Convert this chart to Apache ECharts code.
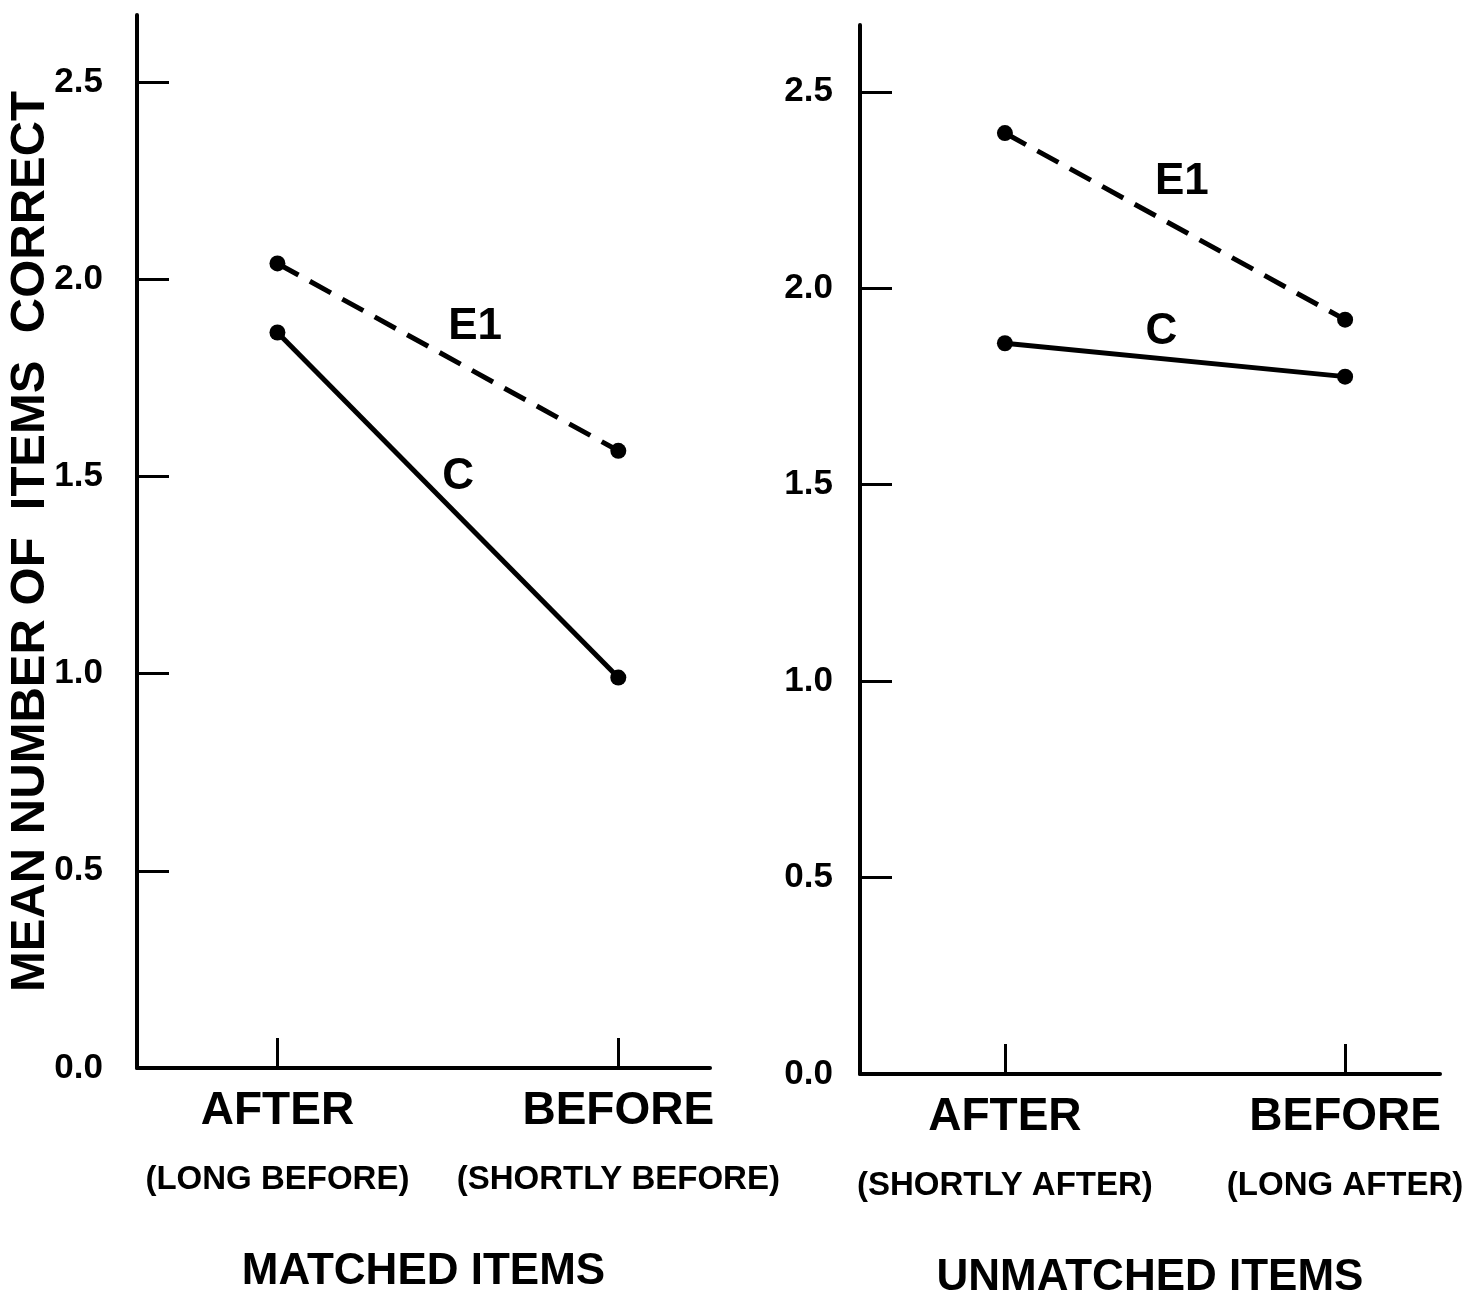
<!DOCTYPE html>
<html>
<head>
<meta charset="utf-8">
<script src="https://cdn.jsdelivr.net/npm/echarts@6/dist/echarts.min.js"></script>
<style>
    html, body { margin: 0; padding: 0; background: #fff; }
    #chart { width: 1477px; height: 1305px; }
</style>
</head>
<body>
<div id="chart"></div>
<script>
// conditions along x (0 = AFTER, 1 = BEFORE)
const conditions = ['AFTER', 'BEFORE'];
const matchedSub = ['(LONG BEFORE)', '(SHORTLY BEFORE)'];
const unmatchedSub = ['(SHORTLY AFTER)', '(LONG AFTER)'];
const yTicks = [0, 0.5, 1.0, 1.5, 2.0, 2.5];

// mean number of items correct
const matchedE1 = [2.04, 1.565];
const matchedC = [1.865, 0.99];
const unmatchedE1 = [2.395, 1.92];
const unmatchedC = [1.86, 1.775];

const font = 'Liberation Sans, Arial, sans-serif';

function pts(vals) {
    return vals.map((v, i) => [i, v]);
}

function xAxisFor(gridIndex, subs, name, min, max) {
    return {
        type: 'value',
        gridIndex: gridIndex,
        min: min,
        max: max,
        name: name,
        nameLocation: 'middle',
        nameGap: 182,
        nameTextStyle: { color: '#000', fontSize: 44, fontFamily: font, fontWeight: 'bold' },
        axisLine: { show: true, onZero: false, lineStyle: { color: '#000', width: 4 } },
        axisTick: { show: true, inside: true, length: 30, customValues: [0, 1], lineStyle: { color: '#000', width: 3 } },
        splitLine: { show: false },
        axisLabel: {
            customValues: [0, 1],
            margin: 14,
            formatter: v => '{a|' + conditions[Math.round(v)] + '}\n{b|' + subs[Math.round(v)] + '}',
            rich: {
                a: { fontSize: 46, lineHeight: 58, fontFamily: font, fontWeight: 'bold', color: '#000' },
                b: { fontSize: 33, lineHeight: 80, fontFamily: font, fontWeight: 'bold', color: '#000' }
            }
        }
    };
}

function yAxisFor(gridIndex, margin, name) {
    return {
        type: 'value',
        gridIndex: gridIndex,
        min: 0,
        max: 2.67,
        name: name,
        nameLocation: 'middle',
        nameRotate: 90,
        nameGap: 82,
        nameMoveOverlap: false,
        nameTextStyle: { color: '#000', fontSize: 49, fontFamily: font, fontWeight: 'bold' },
        axisLine: { show: true, onZero: false, lineStyle: { color: '#000', width: 4 } },
        axisTick: { show: true, inside: true, length: 32, customValues: yTicks, lineStyle: { color: '#000', width: 3 } },
        splitLine: { show: false },
        axisLabel: {
            customValues: yTicks,
            margin: margin,
            fontSize: 35,
            fontFamily: font,
            fontWeight: 'bold',
            color: '#000',
            formatter: v => v.toFixed(1)
        }
    };
}

function lineSeries(idx, vals, dashed, tag, spot) {
    return {
        type: 'line',
        xAxisIndex: idx,
        yAxisIndex: idx,
        data: pts(vals),
        symbol: 'circle',
        symbolSize: 16,
        itemStyle: { color: '#000' },
        lineStyle: { color: '#000', width: 5, type: dashed ? [24, 13] : 'solid' },
        silent: true,
        animation: false,
        markPoint: {
            symbol: 'circle',
            symbolSize: 0,
            label: { show: true, formatter: tag, fontSize: 44, fontFamily: font, fontWeight: 'bold', color: '#000', position: 'inside' },
            data: [{ coord: spot }]
        }
    };
}

// where the series names are written, in data units
const labelSpots = {
    matchedE1: [0.58, 1.88],
    matchedC: [0.53, 1.50],
    unmatchedE1: [0.52, 2.27],
    unmatchedC: [0.46, 1.89]
};

const chart = echarts.init(document.getElementById('chart'));
chart.setOption({
    backgroundColor: '#fff',
    grid: [
        { left: 137, width: 573, top: 15, bottom: 237 },
        { left: 860, width: 580, top: 25, bottom: 229 }
    ],
    xAxis: [
        xAxisFor(0, matchedSub, 'MATCHED ITEMS', -0.412, 1.269),
        xAxisFor(1, unmatchedSub, 'UNMATCHED ITEMS', -0.426, 1.279)
    ],
    yAxis: [
        yAxisFor(0, 34, 'MEAN NUMBER OF  ITEMS  CORRECT'),
        yAxisFor(1, 27, '')
    ],
    series: [
        lineSeries(0, matchedE1, true, 'E1', labelSpots.matchedE1),
        lineSeries(0, matchedC, false, 'C', labelSpots.matchedC),
        lineSeries(1, unmatchedE1, true, 'E1', labelSpots.unmatchedE1),
        lineSeries(1, unmatchedC, false, 'C', labelSpots.unmatchedC)
    ]
});
</script>
</body>
</html>
